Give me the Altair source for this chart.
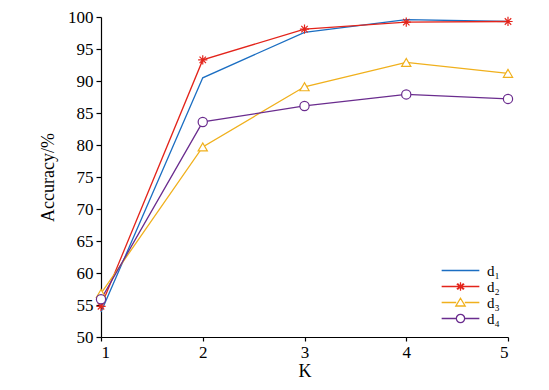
import altair as alt
import pandas as pd

K = [1, 2, 3, 4, 5]
series_names = ["d1", "d2", "d3", "d4"]
legend_labels = ["d₁", "d₂", "d₃", "d₄"]
d1 = [53.9, 90.5, 97.6, 99.6, 99.3]
d2 = [54.8, 93.3, 98.1, 99.2, 99.3]
d3 = [56.8, 79.7, 89.1, 92.9, 91.2]
d4 = [55.9, 83.6, 86.1, 87.9, 87.2]
colors = ["#1b6ec2", "#e3241b", "#f0b01c", "#6a2c8e"]
y_ticks = [50, 55, 60, 65, 70, 75, 80, 85, 90, 95, 100]

rows = []
for name, lab, vals in zip(series_names, legend_labels, [d1, d2, d3, d4]):
    for k, v in zip(K, vals):
        rows.append({"K": k, "acc": v, "series": name, "lab": lab})
df = pd.DataFrame(rows)

FONT = "Times New Roman, Liberation Serif, Tinos, serif"

x = alt.X("K:Q", scale=alt.Scale(domain=[1, 5], nice=False, zero=False),
          axis=alt.Axis(values=K, format="d", title="K", grid=False,
                        tickSize=4, labelPadding=3, titlePadding=2))
y = alt.Y("acc:Q", scale=alt.Scale(domain=[50, 100], nice=False, zero=False),
          axis=alt.Axis(values=y_ticks, title="Accuracy/%", grid=False,
                        tickSize=5, labelPadding=3, titlePadding=10))

lines = alt.Chart(df).mark_line(strokeWidth=1.3).encode(
    x=x, y=y,
    color=alt.Color("series:N", scale=alt.Scale(domain=series_names, range=colors), legend=None),
    order=alt.Order("K:Q"),
)

star = "M-1,0H1M0,-1V1M-0.7,-0.7L0.7,0.7M-0.7,0.7L0.7,-0.7"
pts = alt.Chart(df).transform_filter("datum.series != 'd1'").mark_point(
    filled=False, fill="white", fillOpacity=1, opacity=1, strokeWidth=1.2, size=85
).encode(
    x=x, y=y,
    color=alt.Color("series:N", scale=alt.Scale(domain=series_names, range=colors), legend=None),
    shape=alt.Shape("series:N", scale=alt.Scale(domain=series_names,
                    range=["circle", star, "triangle-up", "circle"]), legend=None),
)

L = 2.9
leg_shapes = [
    f"M-{L},0H{L}",
    f"M-{L},0H{L}M0,-0.66V0.66M-0.58,-0.38L0.58,0.38M-0.58,0.38L0.58,-0.38M-0.47,-0.47L0.47,0.47M-0.47,0.47L0.47,-0.47",
    f"M-{L},0H-0.66M0.66,0H{L}M0,-0.66L0.72,0.54L-0.72,0.54Z",
    f"M-{L},0H-0.64M0.64,0H{L}M-0.64,0A0.64,0.64,0,1,0,0.64,0A0.64,0.64,0,1,0,-0.64,0",
]
legend_layer = alt.Chart(df).transform_filter("false").mark_point(
    filled=False, strokeWidth=1.3, opacity=1
).encode(
    color=alt.Color("lab:N", scale=alt.Scale(domain=legend_labels, range=colors),
                    legend=alt.Legend(title=None, orient="none", legendX=352, legendY=246,
                                      symbolSize=169, labelOffset=19, rowPadding=-2,
                                      labelFont=FONT, labelFontSize=15, labelColor="black",
                                      labelLimit=60, symbolStrokeWidth=1.3)),
    shape=alt.Shape("lab:N", scale=alt.Scale(domain=legend_labels, range=leg_shapes), legend=None),
)

chart = alt.layer(lines, pts, legend_layer).resolve_scale(
    color="independent", shape="independent"
).properties(
    width=407, height=320,
    autosize=alt.AutoSizeParams(type="none"),
    padding={"left": 93, "top": 9, "right": 30, "bottom": 45},
).configure_view(stroke=None).configure_axis(
    labelFont=FONT, titleFont=FONT, labelFontSize=17, titleFontSize=18,
    labelColor="black", titleColor="black", domainColor="black", tickColor="black",
    titleFontWeight="normal", domainWidth=1.2, tickWidth=1.2,
)

chart.save("out.html", embed_options={"renderer": "svg", "actions": False})
